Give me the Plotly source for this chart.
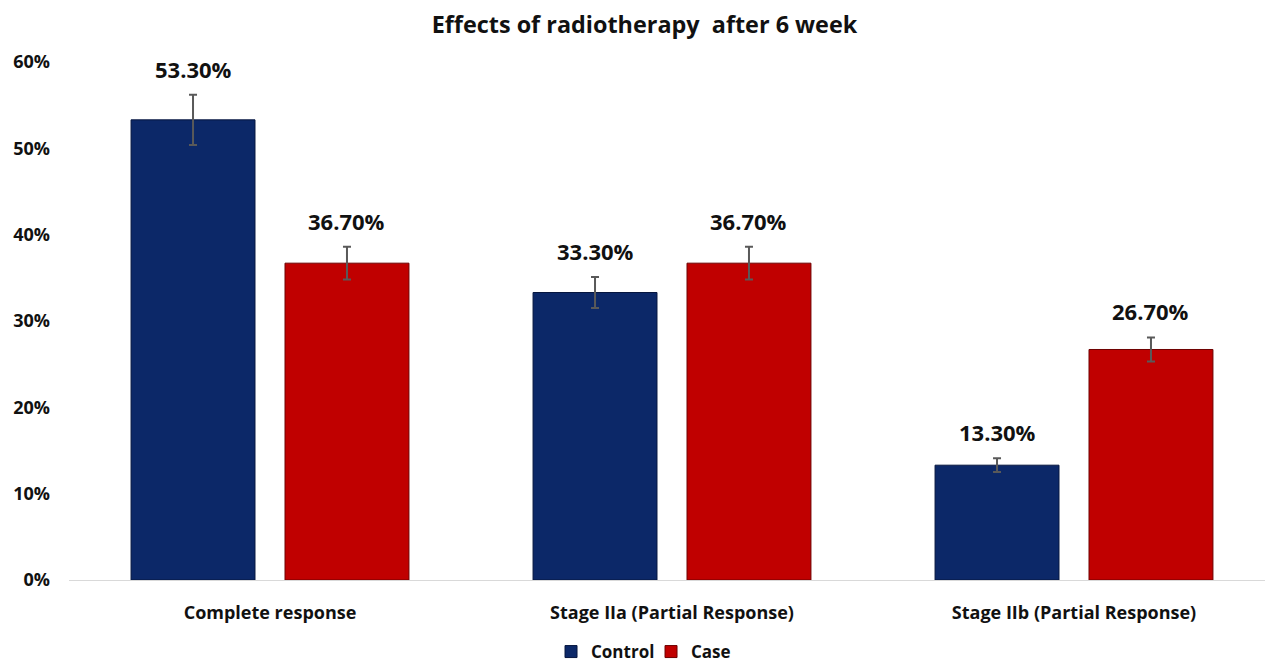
import plotly.graph_objects as go

categories = ["Complete response", "Stage IIa (Partial Response)", "Stage IIb (Partial Response)"]
control_values = [53.3, 33.3, 13.3]
case_values = [36.7, 36.7, 26.7]
control_err = [2.9, 1.8, 0.8]
case_err = [1.9, 1.9, 1.4]
control_labels = ["53.30%", "33.30%", "13.30%"]
case_labels = ["36.70%", "36.70%", "26.70%"]
y_ticks = [0, 10, 20, 30, 40, 50, 60]
y_tick_labels = ["0%", "10%", "20%", "30%", "40%", "50%", "60%"]

FONT = "Open Sans"

fig = go.Figure()
fig.add_trace(go.Bar(
    name="Control", x=categories, y=control_values,
    marker=dict(color="#0c2868", line=dict(color="#06163f", width=1)),
    error_y=dict(type="data", array=control_err, visible=True,
                 color="#595959", thickness=2, width=4),
    offsetgroup="a",
))
fig.add_trace(go.Bar(
    name="Case", x=categories, y=case_values,
    marker=dict(color="#c00000", line=dict(color="#6e0000", width=1)),
    error_y=dict(type="data", array=case_err, visible=True,
                 color="#595959", thickness=2, width=4),
    offsetgroup="b",
))

annotations = []
for i, cat in enumerate(categories):
    for vals, errs, labs, xs in ((control_values, control_err, control_labels, -0.19),
                                 (case_values, case_err, case_labels, 0.19)):
        annotations.append(dict(
            x=i + xs, y=vals[i] + errs[i], xref="x", yref="y",
            text=labs[i], showarrow=False, yanchor="bottom", yshift=9,
            font=dict(family=FONT, size=22, color="#111111", weight="bold"),
        ))

fig.update_layout(
    width=1273, height=665,
    paper_bgcolor="white", plot_bgcolor="white",
    margin=dict(l=61, r=6, t=54, b=93, autoexpand=False),
    title=dict(text="Effects of radiotherapy  after 6 week", x=0.5, xanchor="center",
               y=0.9744, yanchor="middle",
               font=dict(family=FONT, size=23.4, color="#111111", weight="bold")),
    barmode="group", bargap=0.234, bargroupgap=0.195,
    showlegend=True,
    legend=dict(orientation="h", x=0.4826, xanchor="center", y=-0.139, yanchor="middle",
                font=dict(family=FONT, size=17, color="#111111", weight="bold"),
                itemwidth=30, entrywidth=55, traceorder="normal"),
    annotations=annotations,
    xaxis=dict(
        type="category", range=[-0.5, 2.5],
        showline=True, linecolor="#d9d9d9", linewidth=1,
        showgrid=False, ticks="",
        tickfont=dict(family=FONT, size=18, color="#111111", weight="bold"),
        ticklabelstandoff=16,
    ),
    yaxis=dict(
        range=[0, 60], tickvals=y_ticks, ticktext=y_tick_labels,
        showgrid=False, zeroline=False, showline=False, ticks="",
        tickfont=dict(family=FONT, size=18, color="#111111", weight="bold"),
        ticklabelstandoff=18,
    ),
    font=dict(family=FONT),
)

fig.write_html("out.html")
